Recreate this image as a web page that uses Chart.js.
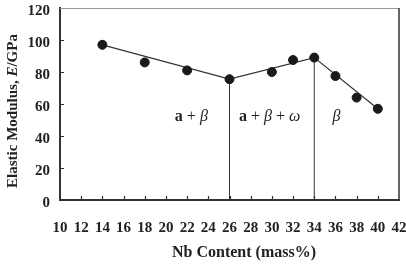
<!DOCTYPE html>
<html>
<head>
<meta charset="utf-8">
<script src="https://cdn.jsdelivr.net/npm/chart.js@4.4.1/dist/chart.umd.min.js"></script>
<style>
  html, body { margin: 0; padding: 0; background: #fff; }
  #wrap { width: 406px; height: 264px; }
</style>
</head>
<body>
<div id="wrap"><canvas id="chart" width="406" height="264"></canvas></div>
<script>
// measured points
const nbContent = [14, 18, 22, 26, 30, 32, 34, 36, 38, 40];
const modulus   = [97, 86, 81, 75.5, 80, 87.5, 89, 77.5, 64, 57];

// trend line through the phase boundaries
const trendX = [14, 26, 34, 40];
const trendY = [97, 75.5, 89, 57];

// phase boundaries (vertical lines)
const boundaryX = [26, 34];
const boundaryTop = [75.5, 89];

// phase labels (data units)
const phaseX = [22.4, 29.8, 36.1];
const phaseY = [52, 52, 52];

const xTicks = [10, 12, 14, 16, 18, 20, 22, 24, 26, 28, 30, 32, 34, 36, 38, 40, 42];
const yTicks = [0, 20, 40, 60, 80, 100, 120];

const SERIF = '"Liberation Serif", "DejaVu Serif", serif';
const INK = "#222";

const boundarySets = boundaryX.map((x, i) => ({
  type: "line",
  data: [{ x: x, y: 0 }, { x: x, y: boundaryTop[i] }],
  borderColor: "#333",
  borderWidth: 1,
  pointRadius: 0,
  showLine: true
}));

// draws inward ticks, frame, axis titles and phase labels
const decor = {
  id: "decor",
  afterDraw(chart) {
    const c = chart.ctx;
    const a = chart.chartArea;
    const xs = chart.scales.x, ys = chart.scales.y;
    c.save();

    // top + right frame
    c.strokeStyle = "#999";
    c.lineWidth = 1;
    c.beginPath();
    c.moveTo(a.left, a.top + 0.5);
    c.lineTo(a.right, a.top + 0.5);
    c.stroke();
    c.strokeStyle = "#333";
    c.lineWidth = 1.5;
    c.beginPath();
    c.moveTo(a.right, a.top);
    c.lineTo(a.right, a.bottom);
    c.stroke();

    // inward ticks
    c.strokeStyle = "#333";
    c.lineWidth = 1.2;
    c.beginPath();
    yTicks.slice(1, -1).forEach(v => {
      const py = Math.round(ys.getPixelForValue(v)) + 0.5;
      c.moveTo(a.left, py);
      c.lineTo(a.left + 4, py);
    });
    xTicks.slice(1, -1).forEach(v => {
      const px = Math.round(xs.getPixelForValue(v)) + 0.5;
      c.moveTo(px, a.bottom);
      c.lineTo(px, a.bottom - 4);
    });
    c.stroke();

    c.fillStyle = INK;
    c.textBaseline = "middle";

    // x title
    c.font = "bold 16px " + SERIF;
    c.textAlign = "center";
    c.fillText("Nb Content (mass%)", 244, 253);

    // y title with italic E
    const parts = [
      { t: "Elastic Modulus, ", f: "bold 15px " + SERIF },
      { t: "E", f: "italic bold 15px " + SERIF },
      { t: "/GPa", f: "bold 15px " + SERIF }
    ];
    drawRich(c, parts, 13, 111, -Math.PI / 2);

    // phase labels
    const plus = { t: " + ", f: "16px " + SERIF };
    const lbls = [
      [{ t: "a", f: "bold 16px " + SERIF }, plus, { t: "\u03b2", f: "italic 16px " + SERIF }],
      [{ t: "a", f: "bold 16px " + SERIF }, plus, { t: "\u03b2", f: "italic 16px " + SERIF }, plus, { t: "\u03c9", f: "italic 16px " + SERIF }],
      [{ t: "\u03b2", f: "italic 16px " + SERIF }]
    ];
    lbls.forEach((p, i) => {
      drawRich(c, p, xs.getPixelForValue(phaseX[i]), ys.getPixelForValue(phaseY[i]), 0);
    });

    c.restore();
  }
};

function drawRich(c, parts, cx, cy, rot) {
  let w = 0;
  parts.forEach(p => { c.font = p.f; p.w = c.measureText(p.t).width; w += p.w; });
  c.save();
  c.translate(cx, cy);
  c.rotate(rot);
  c.textAlign = "left";
  c.textBaseline = "middle";
  let x = -w / 2;
  parts.forEach(p => { c.font = p.f; c.fillText(p.t, x, 0); x += p.w; });
  c.restore();
}

new Chart(document.getElementById("chart"), {
  type: "scatter",
  data: {
    datasets: [
      {
        data: nbContent.map((x, i) => ({ x: x, y: modulus[i] })),
        backgroundColor: "#1a1a1a",
        borderColor: "#1a1a1a",
        pointRadius: 4.5,
        pointHoverRadius: 4.5
      },
      {
        type: "line",
        data: trendX.map((x, i) => ({ x: x, y: trendY[i] })),
        borderColor: "#333",
        borderWidth: 1.2,
        pointRadius: 0,
        tension: 0
      },
      ...boundarySets
    ]
  },
  options: {
    responsive: false,
    animation: false,
    events: [],
    layout: { padding: { top: 8, right: 7, left: 0, bottom: 0 }, autoPadding: false },
    plugins: { legend: { display: false }, tooltip: { enabled: false } },
    scales: {
      x: {
        type: "linear",
        min: 10, max: 42,
        afterFit: s => { s.height = 64; s.paddingLeft = 0; s.paddingRight = 0; },
        afterBuildTicks: s => { s.ticks = xTicks.map(v => ({ value: v })); },
        grid: { display: false, drawTicks: false },
        border: { display: true, color: "#333", width: 2 },
        ticks: { color: INK, padding: 19, maxRotation: 0, autoSkip: false, font: { family: SERIF, size: 15, weight: "bold" } }
      },
      y: {
        min: 0, max: 120,
        afterFit: s => { s.width = 60; s.paddingTop = 0; s.paddingBottom = 0; },
        afterBuildTicks: s => { s.ticks = yTicks.map(v => ({ value: v })); },
        grid: { display: false, drawTicks: false },
        border: { display: true, color: "#333", width: 2 },
        ticks: { color: INK, padding: 10, labelOffset: 3, font: { family: SERIF, size: 15, weight: "bold" } }
      }
    }
  },
  plugins: [decor]
});
</script>
</body>
</html>
